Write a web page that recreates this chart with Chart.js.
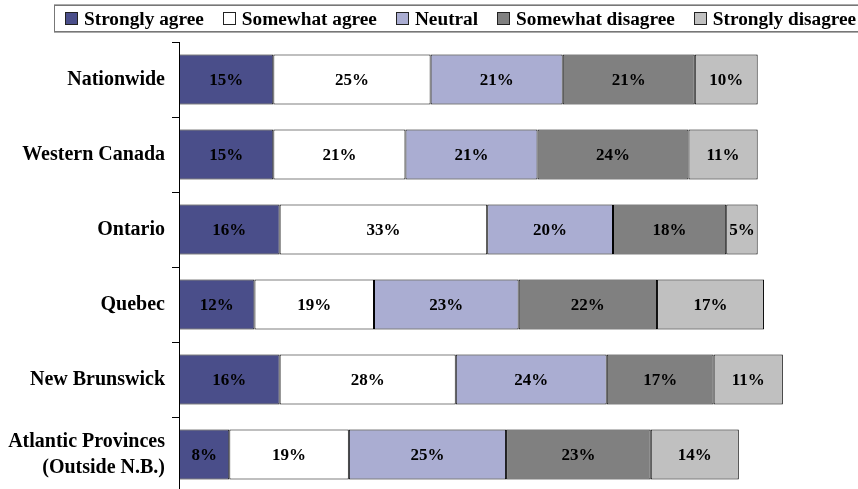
<!DOCTYPE html>
<html>
<head>
<meta charset="utf-8">
<script src="https://cdn.jsdelivr.net/npm/chart.js@4.4.1/dist/chart.umd.min.js"></script>
<style>
  html, body { margin: 0; padding: 0; background: #fff; overflow: hidden; }
  #wrap { position: absolute; left: 0; top: 0; width: 858px; height: 489px; overflow: hidden; }
  #legend {
    position: absolute; left: 54px; top: 5px; width: 830px; height: 27px;
    border: 1px solid #777; box-shadow: 0 1px 0 #aaa, 0 -1px 0 #aaa;
    display: flex; align-items: center; padding-left: 10px; box-sizing: border-box;
    font: bold 19.3px "Liberation Serif", "Times New Roman", serif; white-space: nowrap;
  }
  .item { display: flex; align-items: center; margin-right: 19px; }
  .box { width: 11px; height: 11px; border: 1px solid #222; margin-right: 6px; }
</style>
</head>
<body>
<div id="wrap"><canvas id="chart" width="858" height="512"></canvas></div>
<div id="legend"></div>
<script>
// Regions, top to bottom
const regions = [
    'Nationwide',
    'Western Canada',
    'Ontario',
    'Quebec',
    'New Brunswick',
    ['Atlantic Provinces', '(Outside N.B.)']
];

const responses = ['Strongly agree', 'Somewhat agree', 'Neutral', 'Somewhat disagree', 'Strongly disagree'];
const colors = ['#4a4e8a', '#ffffff', '#aaadd2', '#808080', '#c0c0c0'];

// Percentages per response, one value per region
const stronglyAgree    = [15, 15, 16, 12, 16, 8];
const somewhatAgree    = [25, 21, 33, 19, 28, 19];
const neutral          = [21, 21, 20, 23, 24, 25];
const somewhatDisagree = [21, 24, 18, 22, 17, 23];
const stronglyDisagree = [10, 11, 5, 17, 11, 14];

const series = [stronglyAgree, somewhatAgree, neutral, somewhatDisagree, stronglyDisagree];

const serif = '"Liberation Serif", "Times New Roman", serif';

// HTML legend built from the same arrays
const legendEl = document.getElementById('legend');
responses.forEach((name, i) => {
    const item = document.createElement('div');
    item.className = 'item';
    const box = document.createElement('span');
    box.className = 'box';
    box.style.background = colors[i];
    item.appendChild(box);
    item.appendChild(document.createTextNode(name));
    legendEl.appendChild(item);
});

// Draws the value inside each bar segment
const segmentLabels = {
    id: 'segmentLabels',
    afterDatasetsDraw(chart) {
        const ctx = chart.ctx;
        ctx.save();
        ctx.font = 'bold 17px ' + serif;
        ctx.fillStyle = '#000';
        ctx.textAlign = 'center';
        ctx.textBaseline = 'middle';
        chart.data.datasets.forEach((ds, di) => {
            chart.getDatasetMeta(di).data.forEach((bar, i) => {
                const cx = (bar.x + bar.base) / 2;
                ctx.fillText(ds.data[i] + '%', cx, bar.y + 1);
            });
        });
        ctx.restore();
    }
};

new Chart(document.getElementById('chart'), {
    type: 'bar',
    data: {
        labels: regions,
        datasets: responses.map((name, i) => ({
            label: name,
            data: series[i],
            backgroundColor: colors[i],
            borderColor: '#000',
            borderWidth: 1,
            borderSkipped: false,
            barPercentage: 0.667,
            categoryPercentage: 1
        }))
    },
    options: {
        indexAxis: 'y',
        responsive: false,
        animation: false,
        layout: { padding: { top: 42, right: 50, bottom: 0, left: 0 } },
        plugins: {
            legend: { display: false },
            tooltip: { enabled: false }
        },
        scales: {
            x: { stacked: true, min: 0, max: 100, display: false },
            y: {
                stacked: true,
                afterFit: (scale) => { scale.width = 179; },
                border: { color: '#000', width: 1 },
                grid: { offset: true, drawOnChartArea: false, tickLength: 7, color: '#000' },
                ticks: {
                    color: '#000',
                    padding: 7,
                    font: { family: serif, size: 20, weight: 'bold', lineHeight: 1.3 }
                }
            }
        }
    },
    plugins: [segmentLabels]
});
</script>
</body>
</html>
